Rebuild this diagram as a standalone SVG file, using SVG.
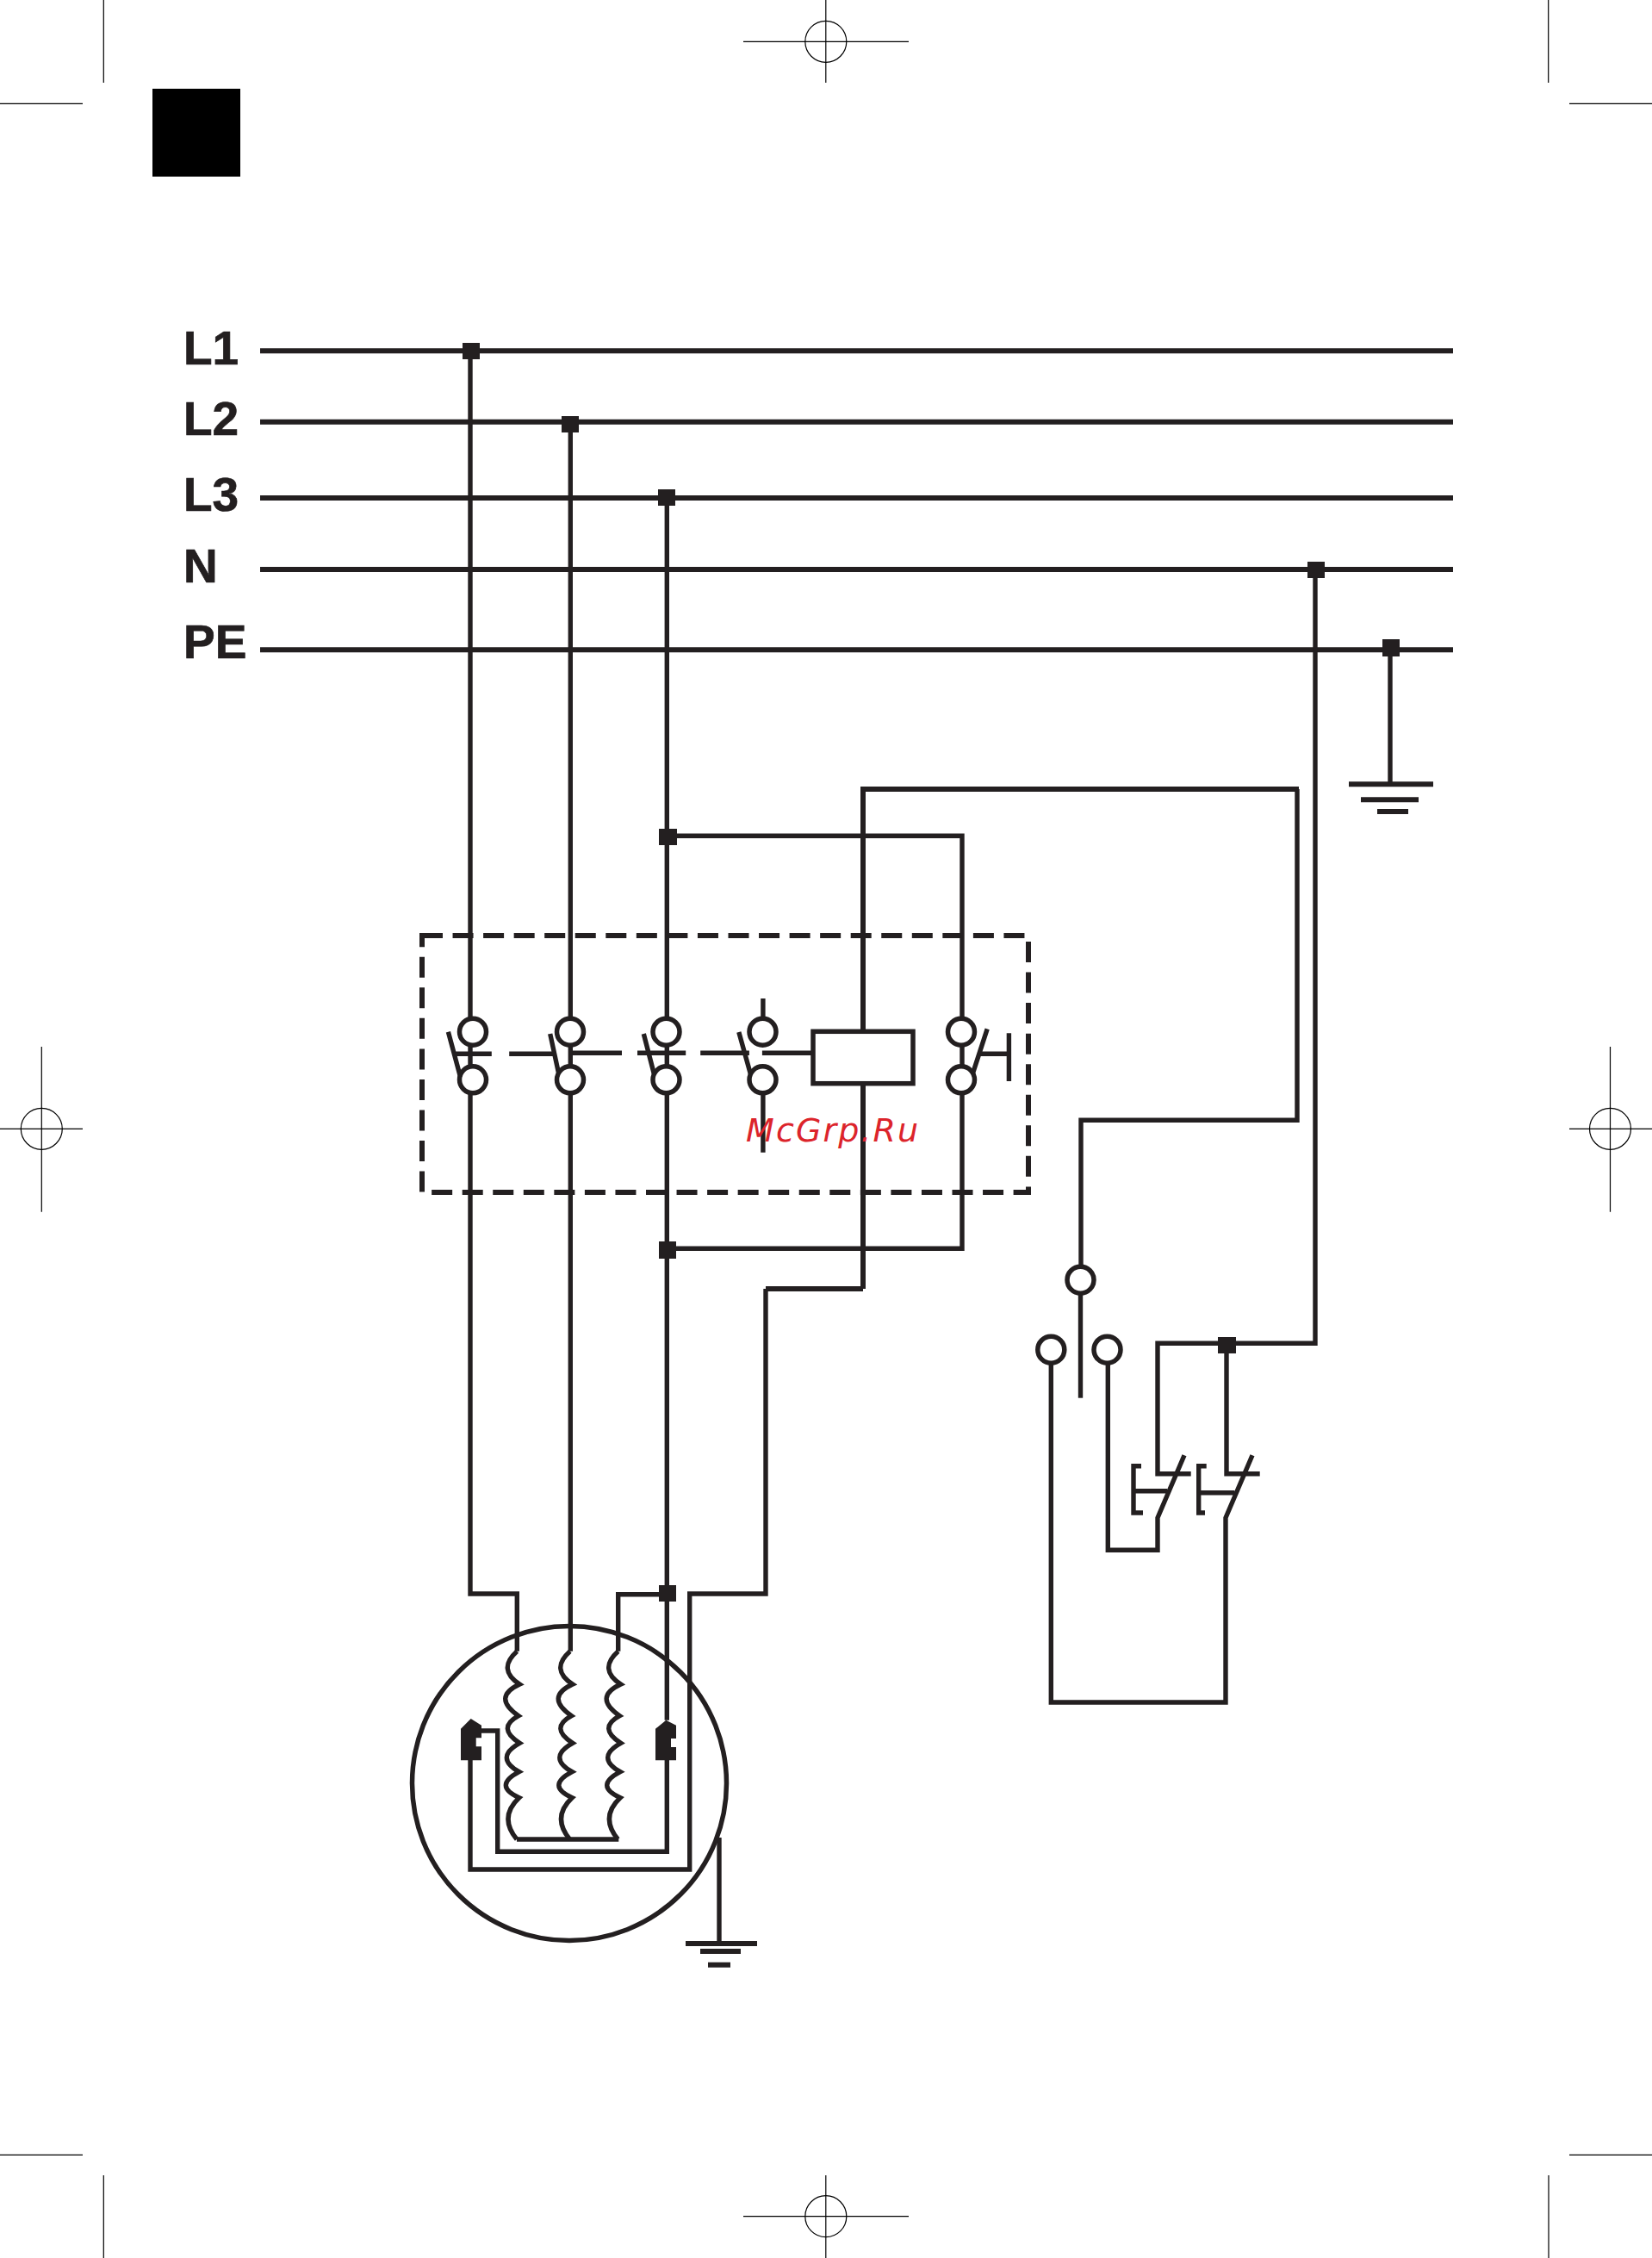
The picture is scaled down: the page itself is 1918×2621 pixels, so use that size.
<svg xmlns="http://www.w3.org/2000/svg" width="1918" height="2621" viewBox="0 0 1918 2621">
<style>
.w{fill:none;stroke:#231f20;stroke-width:5.4;stroke-linejoin:miter}
.b{fill:none;stroke:#231f20;stroke-width:6}
.t{fill:#fff;stroke:#231f20;stroke-width:5.5}
.o{fill:none;stroke:#231f20;stroke-width:5.4}
.j{fill:#231f20}
.c{fill:none;stroke:#000;stroke-width:1.2}
.l{font-family:"Liberation Sans",Arial,sans-serif;font-weight:700;font-size:55px;fill:#231f20;stroke:#231f20;stroke-width:.7}
</style>
<defs>
<path id="winding" class="w" d="M600.3 1916.7Q576.8 1937.5 603.3 1955Q570.8 1970 602 1991.7Q576 2005.9 603.3 2023.3Q573.6 2040 602.7 2056.7Q571.9 2072.9 602.7 2086.7Q578.7 2109.2 600 2135"/>
</defs>
<rect width="1918" height="2621" fill="#fff"/>
<g id="printer-marks">
<path class="c" d="M120.3 0V96M0 120.3H96M1797.7 0V96M1822 120.3H1918M120.3 2525V2621M0 2501.3H96M1798 2525V2621M1822 2501.3H1918"/>
<path class="c" d="M958.8 0V96M863 48.3H1055M958.8 2525V2621M863 2572.7H1055M48.3 1215V1406.7M0 1310.3H96M1869.5 1215V1406.7M1822 1310.3H1918"/>
<circle class="c" cx="958.8" cy="48.3" r="24"/>
<circle class="c" cx="958.8" cy="2572.7" r="24"/>
<circle class="c" cx="48.3" cy="1310.3" r="24"/>
<circle class="c" cx="1869.5" cy="1310.3" r="24"/>
</g>
<rect id="tab" x="177" y="103" width="102" height="102" fill="#000"/>
<g id="bus-labels">
<text class="l" x="213" y="422.7">L1</text>
<text class="l" x="213" y="505.3">L2</text>
<text class="l" x="213" y="593.3">L3</text>
<text class="l" x="213" y="676">N</text>
<text class="l" x="213" y="764.3">PE</text>
</g>
<g id="connectors">
<path class="b" d="M302 407.3H1687M302 489.7H1687M302 578H1687M302 661H1687M302 754.3H1687"/>
<path class="w" d="M546 407V1850H600.3V1916.7"/>
<path class="w" d="M662.3 490V1916.7"/>
<path class="w" d="M774.3 578V1996.7"/>
<path class="w" d="M775 1850.7H717.7V1916.7"/>
<path class="w" d="M889 1496V1850H800.7V2170H546V2043"/>
<path class="w" d="M559 2009H577.7V2149.3H774.3V2043"/>
<path class="w" d="M600 2135H718.3"/>
<path class="w" d="M775 970.3H1117V1449.3H775"/>
<path class="b" d="M1002 1496H889M1002 1496V916H1508"/>
<path class="w" d="M1506 916V1300.3H1255V1470"/>
<path class="w" d="M1614 754V910"/>
<path class="w" d="M1527 661V1559.3H1344V1710.7H1382.7"/>
<path class="w" d="M1424 1561V1710.7H1462.7"/>
<path class="w" d="M1254.5 1500V1622.7"/>
<path class="w" d="M1220.3 1583V1976H1423V1761.7L1454 1689.3"/>
<path class="w" d="M1286.3 1583V1799.3H1344V1761.7L1375 1689.3"/>
<path class="w" d="M835 2133V2256"/>
<path class="w" d="M885.9 1159V1185M885.9 1270V1337.7"/>
</g>
<g id="junctions">
<rect class="j" x="537" y="398" width="20" height="19"/>
<rect class="j" x="652" y="483" width="20" height="19"/>
<rect class="j" x="764" y="568" width="20" height="19"/>
<rect class="j" x="1518" y="652" width="20" height="19"/>
<rect class="j" x="1605" y="742" width="20" height="20"/>
<rect class="j" x="765" y="962" width="21" height="19"/>
<rect class="j" x="765" y="1441" width="20" height="20"/>
<rect class="j" x="765" y="1840" width="20" height="19"/>
<rect class="j" x="1414" y="1552" width="21" height="19"/>
</g>
<g id="earth-pe">
<path class="b" d="M1566 910.3H1664" stroke-width="5"/>
<path class="b" d="M1580 928.3H1647" stroke-width="5"/>
<path class="b" d="M1599 942H1635"/>
</g>
<g id="earth-motor">
<path class="b" d="M796 2256H879M813 2265H860M822 2280.7H848"/>
</g>
<g id="contactor">
<path class="b" d="M490 1086H1194V1384H490Z" stroke-dasharray="24 11.55"/>
<g id="pole-1">
<circle class="t" cx="549" cy="1197.7" r="15.5"/><circle class="t" cx="549" cy="1253.3" r="15.5"/>
<path class="o" d="M520.4 1197.7L534.5 1250M529.1 1223.3H570.8"/>
</g>
<g id="pole-2">
<circle class="t" cx="662" cy="1197.7" r="15.5"/><circle class="t" cx="662" cy="1253.3" r="15.5"/>
<path class="o" d="M638.7 1200L648.4 1245M591.2 1223.3H642.1"/>
</g>
<g id="pole-3">
<circle class="t" cx="773.5" cy="1197.7" r="15.5"/><circle class="t" cx="773.5" cy="1253.3" r="15.5"/>
<path class="o" d="M747.3 1200L759.4 1246.7M664.9 1222.3H722M740 1222.3H796.2"/>
</g>
<g id="pole-4">
<circle class="t" cx="885.5" cy="1197.7" r="15.5"/><circle class="t" cx="885.5" cy="1253.3" r="15.5"/>
<path class="o" d="M857.8 1198L871.4 1246.7M813.2 1222.3H869.9M884.9 1222.3H944"/>
</g>
<g id="coil">
<rect x="944" y="1197.3" width="116" height="60.4" fill="#fff" stroke="#231f20" stroke-width="5.5"/>
</g>
<g id="aux-contact">
<circle class="t" cx="1116" cy="1197.7" r="15.5"/><circle class="t" cx="1116" cy="1253.3" r="15.5"/>
<path class="o" d="M1146.2 1194.3L1129.2 1246.7M1138.9 1223.3H1171.4M1171.4 1199.3V1255"/>
</g>
</g>
<g id="selector-switch">
<circle class="t" cx="1254.5" cy="1485.7" r="15.5"/>
<circle class="t" cx="1220.3" cy="1566.7" r="15.5"/>
<circle class="t" cx="1285.5" cy="1566.7" r="15.5"/>
</g>
<g id="push-button-1">
<path class="o" d="M1325 1701.7H1316V1756H1327M1316 1730.7H1355"/>
</g>
<g id="push-button-2">
<path class="o" d="M1400.7 1701.7H1391.7V1756H1399M1391.7 1732.7H1433.3"/>
</g>
<g id="motor">
<circle cx="661" cy="2070" r="182.5" fill="none" stroke="#231f20" stroke-width="5.5"/>
<use href="#winding"/>
<use href="#winding" x="61.5"/>
<use href="#winding" x="117.4"/>
<polygon class="j" points="546.7,1995 559,2002.7 559,2017.3 552.7,2017.3 552.7,2027.3 559,2027.3 559,2043.3 535,2043.3 535,2006.7"/>
<polygon class="j" points="773.3,1996.7 785,2002.7 785,2018 779,2018 779,2028 785,2028 785,2043.3 761,2043.3 761,2006.7"/>
</g>
<text id="watermark" x="866" y="1325" font-family="'DejaVu Sans',sans-serif" font-style="italic" font-size="38" letter-spacing="2.1" fill="#dc242b">McGrp.Ru</text>
</svg>
